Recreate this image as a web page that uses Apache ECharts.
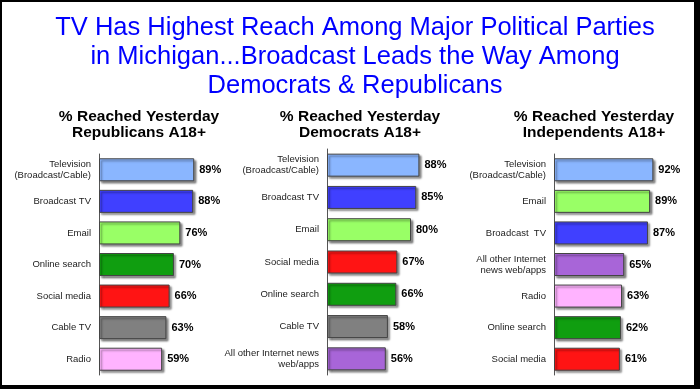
<!DOCTYPE html>
<html>
<head>
<meta charset="utf-8">
<script src="https://cdn.jsdelivr.net/npm/echarts@6/dist/echarts.min.js"></script>
<style>
html,body{margin:0;padding:0;background:#fff;}
#c{width:700px;height:389px;}
</style>
</head>
<body>
<div id="c"></div>
<script>
// ---- data ----
var mainTitle = 'TV Has Highest Reach Among Major Political Parties\nin Michigan...Broadcast Leads the Way Among\nDemocrats & Republicans';
var panelTitles = ['% Reached Yesterday\nRepublicans A18+', '% Reached Yesterday\nDemocrats A18+', '% Reached Yesterday\nIndependents A18+'];

var repCats = ['Television\n(Broadcast/Cable)', 'Broadcast TV', 'Email', 'Online search', 'Social media', 'Cable TV', 'Radio'];
var repVals = [89, 88, 76, 70, 66, 63, 59];

var demCats = ['Television\n(Broadcast/Cable)', 'Broadcast TV', 'Email', 'Social media', 'Online search', 'Cable TV', 'All other Internet news\nweb/apps'];
var demVals = [88, 85, 80, 67, 66, 58, 56];

var indCats = ['Television\n(Broadcast/Cable)', 'Email', 'Broadcast  TV', 'All other Internet\nnews web/apps', 'Radio', 'Online search', 'Social media'];
var indVals = [92, 89, 87, 65, 63, 62, 61];

// ---- styles ----
var colorMap = {
  'television': '#8AB6FF',
  'broadcast': '#4040FF',
  'email': '#99FF66',
  'online': '#109E10',
  'social': '#FF1414',
  'cable': '#808080',
  'radio': '#FFB3FF',
  'all': '#A865D8'
};
function colorFor(name) {
  var k = name.toLowerCase().split(/\s/)[0];
  return colorMap[k] || '#999';
}

var grids = [
  {left: 99, top: 154, width: 107, height: 221},
  {left: 327, top: 149, width: 105, height: 226},
  {left: 554, top: 154, width: 108, height: 221}
];
var titleCenters = [134, 355, 589];
var panels = [[repCats, repVals], [demCats, demVals], [indCats, indVals]];

var option = {
  animation: false,
  backgroundColor: '#fff',
  title: [{
    text: mainTitle,
    left: 350, top: 8,
    textAlign: 'center',
    textStyle: {fontFamily: 'Liberation Sans', fontSize: 25.5, fontWeight: 'normal', color: '#0000FF', lineHeight: 29, align: 'center'}
  }].concat(panelTitles.map(function (t, i) {
    return {
      text: t, left: titleCenters[i], top: 103, textAlign: 'center',
      textStyle: {fontFamily: 'Liberation Sans', fontSize: 15.5, fontWeight: 'bold', color: '#000', lineHeight: 16.5, align: 'center'}
    };
  })),
  grid: grids,
  xAxis: grids.map(function (g, i) {
    return {type: 'value', gridIndex: i, min: 0, max: 100, show: false};
  }),
  yAxis: panels.map(function (p, i) {
    return {
      type: 'category', gridIndex: i, data: p[0], inverse: true,
      axisLine: {show: true, lineStyle: {color: '#555', width: 1}},
      axisTick: {show: false},
      axisLabel: {fontFamily: 'Liberation Sans', fontSize: 9.5, color: '#222', lineHeight: 11, margin: 8, align: 'right'},
      splitLine: {show: false}
    };
  }),
  series: panels.map(function (p, i) {
    return {
      type: 'bar', xAxisIndex: i, yAxisIndex: i, barWidth: 23,
      data: p[1].map(function (v, j) {
        return {value: v, itemStyle: {color: colorFor(p[0][j])}};
      }),
      itemStyle: {borderColor: '#444', borderWidth: 1, shadowColor: 'rgba(0,0,0,0.45)', shadowOffsetX: 2, shadowOffsetY: 2, shadowBlur: 2},
      label: {show: true, position: 'right', distance: 5, formatter: '{c}%', fontFamily: 'Liberation Sans', fontSize: 11, fontWeight: 'bold', color: '#000'}
    };
  }),
  graphic: [
    {type: 'rect', shape: {x: 0, y: 0, width: 700, height: 2}, style: {fill: '#000'}, z: 100},
    {type: 'rect', shape: {x: 0, y: 0, width: 2, height: 389}, style: {fill: '#000'}, z: 100},
    {type: 'rect', shape: {x: 694, y: 0, width: 6, height: 389}, style: {fill: '#000'}, z: 100},
    {type: 'rect', shape: {x: 0, y: 385, width: 700, height: 4}, style: {fill: '#000'}, z: 100}
  ]
};

var chart = echarts.init(document.getElementById('c'), null, {renderer: 'canvas'});
chart.setOption(option);
</script>
</body>
</html>
